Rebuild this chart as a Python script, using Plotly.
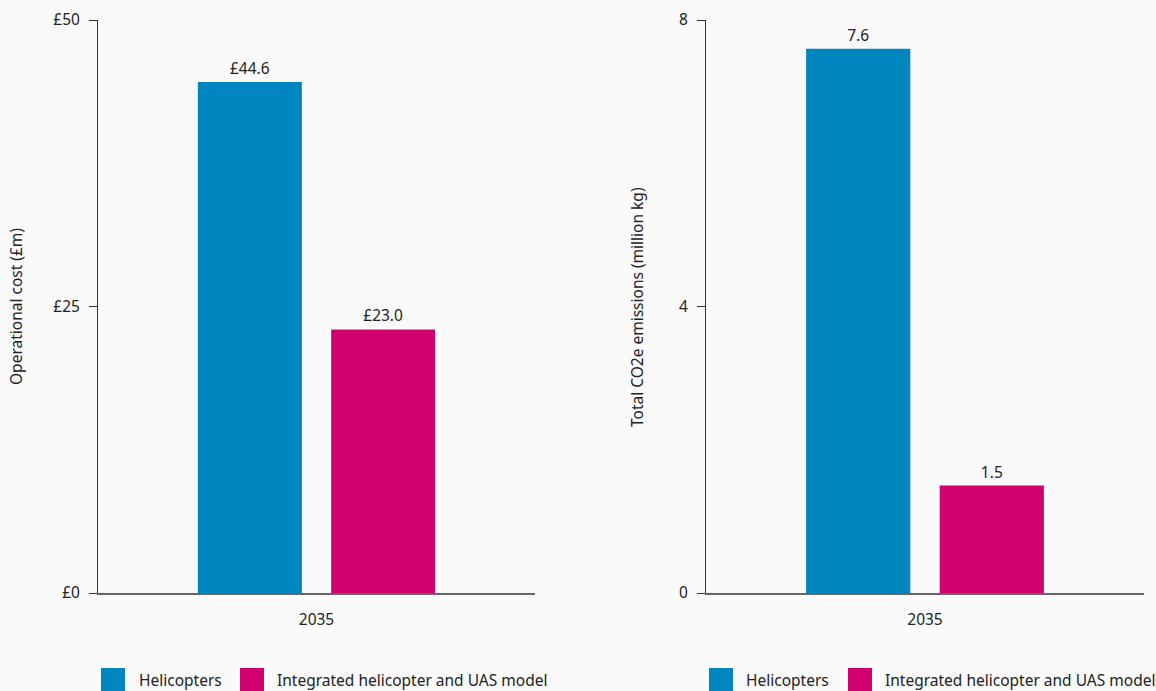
import plotly.graph_objects as go
from plotly.subplots import make_subplots

# Data
years = ["2035"]
series = ["Helicopters", "Integrated helicopter and UAS model"]
cost_helicopters = [44.6]
cost_integrated = [23.0]
co2_helicopters = [7.6]
co2_integrated = [1.5]
cost_ticks = [0, 25, 50]
cost_tick_labels = ["£0", "£25", "£50"]
co2_ticks = [0, 4, 8]
co2_tick_labels = ["0", "4", "8"]

BLUE = "#0086bf"
PINK = "#d0006f"
BG = "#fafafa"
TEXT = "#222222"
FONT = "Noto Sans"
FS = 15.5

W, H = 1156, 691


def px_x(p):
    return p / W


def px_y(p):
    return (H - p) / H


fig = make_subplots(rows=1, cols=2)

fig.add_trace(go.Bar(x=years, y=cost_helicopters, name=series[0], marker_color=BLUE,
                     text=[f"£{v:.1f}" for v in cost_helicopters], textposition="outside",
                     cliponaxis=False, showlegend=False), row=1, col=1)
fig.add_trace(go.Bar(x=years, y=cost_integrated, name=series[1], marker_color=PINK,
                     text=[f"£{v:.1f}" for v in cost_integrated], textposition="outside",
                     cliponaxis=False, showlegend=False), row=1, col=1)
fig.add_trace(go.Bar(x=years, y=co2_helicopters, name=series[0], marker_color=BLUE,
                     text=[f"{v:.1f}" for v in co2_helicopters], textposition="outside",
                     cliponaxis=False, showlegend=False), row=1, col=2)
fig.add_trace(go.Bar(x=years, y=co2_integrated, name=series[1], marker_color=PINK,
                     text=[f"{v:.1f}" for v in co2_integrated], textposition="outside",
                     cliponaxis=False, showlegend=False), row=1, col=2)

fig.update_traces(textfont=dict(family=FONT, size=FS, color=TEXT), marker_line_width=0)

xaxis_style = dict(type="category", showline=True, linecolor="#666666", linewidth=2,
                   ticks="outside", ticklen=11, tickcolor="rgba(0,0,0,0)",
                   tickfont=dict(family=FONT, size=FS, color=TEXT),
                   showgrid=False, zeroline=False, automargin=False)
yaxis_style = dict(showline=True, linecolor="#333333", linewidth=1,
                   ticks="outside", ticklen=8, tickcolor="#333333", tickwidth=1,
                   tickfont=dict(family=FONT, size=FS, color=TEXT),
                   ticklabelstandoff=6, showgrid=False, zeroline=False, automargin=False)

y_dom = [px_y(593), px_y(20)]

fig.update_layout(
    width=W, height=H,
    margin=dict(l=0, r=0, t=0, b=0, autoexpand=False),
    paper_bgcolor=BG, plot_bgcolor=BG,
    barmode="group", bargap=0.39, bargroupgap=0.22,
    font=dict(family=FONT, size=FS, color=TEXT),
    xaxis=dict(domain=[px_x(98), px_x(535)], **xaxis_style),
    xaxis2=dict(domain=[px_x(706), px_x(1144)], **xaxis_style),
    yaxis=dict(domain=y_dom, range=[0, 50], tickvals=cost_ticks, ticktext=cost_tick_labels,
               **yaxis_style),
    yaxis2=dict(domain=y_dom, range=[0, 8], tickvals=co2_ticks, ticktext=co2_tick_labels,
                **yaxis_style),
)

# Axis titles, rotated alongside each value axis
for x_px, title in [(16, "Operational cost (£m)"), (637, "Total CO2e emissions (million kg)")]:
    fig.add_annotation(xref="paper", yref="paper", x=px_x(x_px), y=px_y(307),
                       text=title, textangle=-90, showarrow=False,
                       xanchor="center", yanchor="middle",
                       font=dict(family=FONT, size=FS, color=TEXT))

# Legends below each panel
legend_items = [
    (101, 137, BLUE, series[0]),
    (240, 275, PINK, series[1]),
    (709, 744, BLUE, series[0]),
    (848, 883, PINK, series[1]),
]
for sq_x, txt_x, color, label in legend_items:
    fig.add_shape(type="rect", xref="paper", yref="paper",
                  x0=px_x(sq_x), x1=px_x(sq_x + 24), y0=px_y(668), y1=px_y(692),
                  fillcolor=color, line_width=0)
    fig.add_annotation(xref="paper", yref="paper", x=px_x(txt_x), y=px_y(680),
                       text=label, showarrow=False, xanchor="left", yanchor="middle",
                       font=dict(family=FONT, size=FS, color=TEXT))

fig.write_html("out.html")
